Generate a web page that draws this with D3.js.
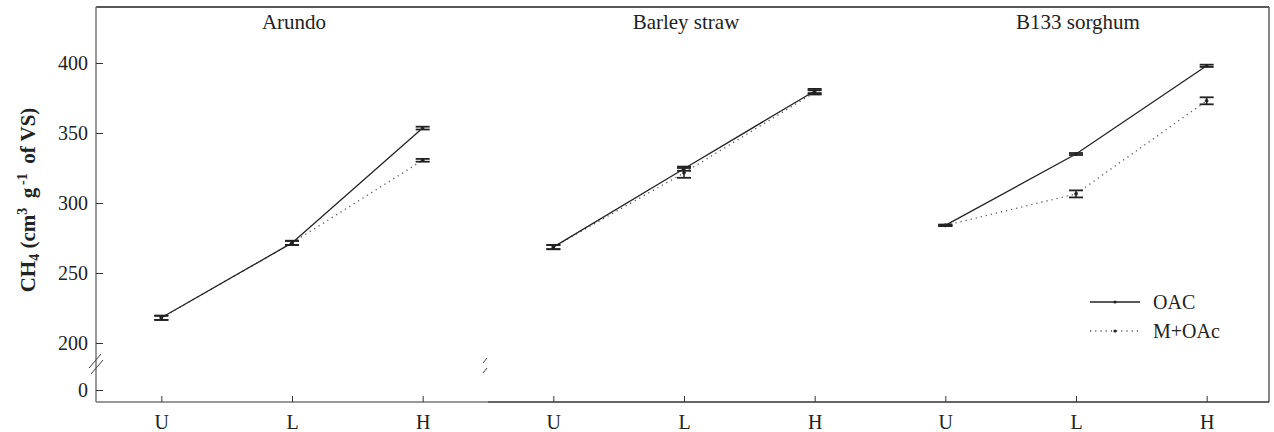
<!DOCTYPE html>
<html><head><meta charset="utf-8">
<script src="https://cdn.jsdelivr.net/npm/d3@7"></script>
<style>body{margin:0;background:#fff}svg{display:block}svg text{font-family:"Liberation Serif","Times New Roman",serif !important;fill:#222}</style>
</head><body><svg id="c" width="1274" height="432" font-family="Liberation Serif"></svg>
<script>
const categories = ["U","L","H"];
const panels = ["Arundo","Barley straw","B133 sorghum"];
const yTicks = [0,200,250,300,350,400];
const seriesNames = ["OAC","M+OAc"];
const oacMean = [[218,271.5,353.5],[268.5,324.5,380],[284,335,398]];
const oacErr  = [[1.5,1.5,1],[1.5,1.5,1.5],[0.5,0.7,0.8]];
const macMean = [[218,271.5,330.5],[268.5,321.5,379],[284,306.5,373]];
const macErr  = [[1.5,1.5,1],[1.5,3.5,1.5],[0.5,2.5,2.5]];

const SERIF = "Liberation Serif";
const svg = d3.select("#c");
const L = 96, R = 1269, T = 7, B = 402, PW = 392;
const y = d3.scaleLinear().domain([0,200,440]).range([390,343,T]);

// frame
svg.append("line").attr("x1",L).attr("x2",R).attr("y1",T).attr("y2",T).attr("stroke","#222").attr("stroke-width",1.3);
svg.append("line").attr("x1",R).attr("x2",R).attr("y1",T).attr("y2",B).attr("stroke","#444").attr("stroke-width",1.3);
svg.append("line").attr("x1",L).attr("x2",L).attr("y1",T).attr("y2",B).attr("stroke","#777").attr("stroke-width",1.5);
svg.append("line").attr("x1",L).attr("x2",L+PW).attr("y1",B).attr("y2",B).attr("stroke","#777").attr("stroke-width",1.5);
svg.append("line").attr("x1",L+PW).attr("x2",R).attr("y1",B).attr("y2",B).attr("stroke","#333").attr("stroke-width",1.3);

// y axis
const yAxis = d3.axisLeft(y).tickValues(yTicks).tickSize(-7).tickPadding(8).tickFormat(d3.format("d"));
const ya = svg.append("g").attr("transform",`translate(${L},0)`).call(yAxis).attr("font-family",SERIF).attr("font-size",20);
ya.select(".domain").remove();
ya.selectAll(".tick line").attr("stroke","#333");
ya.selectAll(".tick text").style("font-family",SERIF).style("font-size","20px").attr("fill","#222").attr("dy","0.33em");

// y break slashes
[[0,0],[2,6]].forEach(([dx,dy])=>{
  svg.append("line").attr("x1",89+dx).attr("y1",368+dy).attr("x2",101+dx).attr("y2",354+dy).attr("stroke","#444").attr("stroke-width",1);
});

// y title
const yt = svg.append("text").attr("transform","translate(35,200) rotate(-90)").attr("text-anchor","middle")
  .style("font-family",SERIF).style("font-size","21px").style("font-weight","bold");
yt.append("tspan").text("CH");
yt.append("tspan").text("4").attr("baseline-shift","-25%").style("font-size","14px");
yt.append("tspan").text(" (cm");
yt.append("tspan").text("3").attr("baseline-shift","55%").style("font-size","14px");
yt.append("tspan").text("\u2009 g");
yt.append("tspan").text("\u2009-1").attr("baseline-shift","55%").style("font-size","14px");
yt.append("tspan").text("\u2009 of VS)");

const line = (xs) => d3.line().x((d,i)=>xs(categories[i])).y(d=>y(d));

panels.forEach((p,pi)=>{
  const x0 = L + PW*pi;
  const x = d3.scalePoint().domain(categories).range([x0, x0+PW]).padding(0.5);
  const xa = svg.append("g").attr("transform",`translate(0,${B})`).call(d3.axisBottom(x).tickSize(-6).tickPadding(13)).attr("font-family",SERIF);
  xa.select(".domain").remove();
  xa.selectAll(".tick line").attr("stroke","#333");
  xa.selectAll(".tick text").style("font-family",SERIF).style("font-size","20px").attr("fill","#222");

  svg.append("text").attr("x",x("L")+2).attr("y",29).attr("text-anchor","middle").style("font-family",SERIF).style("font-size","21px").text(p);

  if (pi===1) {
    [[0,0],[0,10]].forEach(([dx,dy])=>{
      svg.append("line").attr("x1",x0-5+dx).attr("y1",363+dy).attr("x2",x0-1+dx).attr("y2",358+dy).attr("stroke","#444").attr("stroke-width",1);
    });
  }

  const sets = [
    {m:macMean[pi], e:macErr[pi], dash:"1.2,4", col:"#555"},
    {m:oacMean[pi], e:oacErr[pi], dash:null, col:"#222"}
  ];
  sets.forEach(s=>{
    svg.append("path").datum(s.m).attr("d",line(x)).attr("fill","none").attr("stroke",s.col)
      .attr("stroke-width",1.3).attr("stroke-dasharray",s.dash);
    s.m.forEach((v,i)=>{
      const cx = x(categories[i]);
      const g = svg.append("g");
      g.append("line").attr("x1",cx).attr("x2",cx).attr("y1",y(v-s.e[i])).attr("y2",y(v+s.e[i])).attr("stroke","#222").attr("stroke-width",1.5);
      [v-s.e[i], v+s.e[i]].forEach(w=>{
        g.append("line").attr("x1",cx-7).attr("x2",cx+7).attr("y1",y(w)).attr("y2",y(w)).attr("stroke","#222").attr("stroke-width",1.8);
      });
      g.append("circle").attr("cx",cx).attr("cy",y(v)).attr("r",1.8).attr("fill","#222");
    });
  });
});

// legend
const legY = [302, 331];
seriesNames.forEach((n,i)=>{
  svg.append("line").attr("x1",1090).attr("x2",1140).attr("y1",legY[i]).attr("y2",legY[i])
    .attr("stroke", i===0?"#222":"#555").attr("stroke-width",1.3).attr("stroke-dasharray", i===0?null:"1.2,4");
  svg.append("circle").attr("cx",1115).attr("cy",legY[i]).attr("r",1.6).attr("fill","#222");
  svg.append("text").attr("x",1153).attr("y",legY[i]+7).style("font-family",SERIF).style("font-size","20px").text(n);
});
</script></body></html>
